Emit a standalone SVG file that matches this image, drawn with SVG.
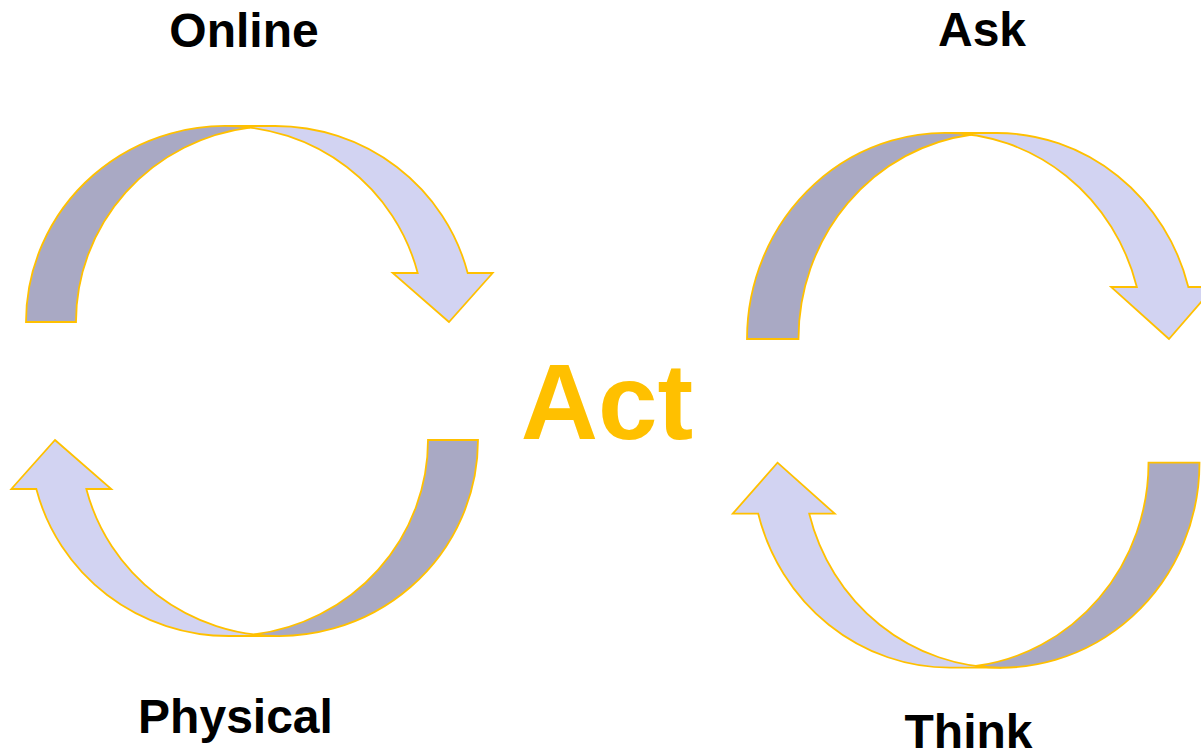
<svg xmlns="http://www.w3.org/2000/svg" width="1201" height="751" viewBox="0 0 1201 751">
<style>
.light{fill:#D2D3F2;stroke:#FFC000;stroke-width:1.8;stroke-linejoin:miter}
.dark{fill:#A9A9C4;stroke:#FFC000;stroke-width:1.8;stroke-linejoin:miter}
.lbl{font-family:"Liberation Sans",Arial,sans-serif;font-weight:bold;font-size:48px;fill:#000;text-anchor:middle}
.act{font-family:"Liberation Sans",Arial,sans-serif;font-weight:bold;font-size:107px;fill:#FFC000;text-anchor:middle}
</style>
<rect width="1201" height="751" fill="#FFFFFF"/>
<g id="connectors">
<g id="arrow-online" transform="translate(26,126)">
<path class="light" d="M423,196 L366.68,147 L391.68,147 A199,196 0 0 0 199,0 L249,0 A199,196 0 0 1 441.68,147 L466.68,147 Z"/>
<path class="dark" d="M224,1.55 A199,196 0 0 0 50,196 L0,196 A199,196 0 0 1 224,1.55 Z"/>
</g>
<g id="arrow-physical" transform="translate(478,636) rotate(180)">
<path class="light" d="M423,196 L366.68,147 L391.68,147 A199,196 0 0 0 199,0 L249,0 A199,196 0 0 1 441.68,147 L466.68,147 Z"/>
<path class="dark" d="M224,1.55 A199,196 0 0 0 50,196 L0,196 A199,196 0 0 1 224,1.55 Z"/>
</g>
<g id="arrow-ask" transform="translate(747,133)">
<path class="light" d="M422,206 L364.08,154 L389.83,154 A198.125,206 0 0 0 198.125,0 L249.63,0 A198.125,206 0 0 1 441.33,154 L467.08,154 Z"/>
<path class="dark" d="M223.88,1.75 A198.125,206 0 0 0 51.5,206 L0,206 A198.125,206 0 0 1 223.88,1.75 Z"/>
</g>
<g id="arrow-think" transform="translate(1199.5,667.7) rotate(180)">
<path class="light" d="M422,205 L364.77,154 L390.27,154 A198.25,205 0 0 0 198.25,0 L249.25,0 A198.25,205 0 0 1 441.27,154 L466.77,154 Z"/>
<path class="dark" d="M223.75,1.7 A198.25,205 0 0 0 51,205 L0,205 A198.25,205 0 0 1 223.75,1.7 Z"/>
</g>
</g>
<g id="node-online"><text class="lbl" x="244" y="46.5">Online</text></g>
<g id="node-ask"><text class="lbl" x="982" y="46">Ask</text></g>
<g id="node-act"><text class="act" x="607" y="439">Act</text></g>
<g id="node-physical"><text class="lbl" x="235.5" y="733">Physical</text></g>
<g id="node-think"><text class="lbl" x="968.5" y="747.5">Think</text></g>
</svg>
